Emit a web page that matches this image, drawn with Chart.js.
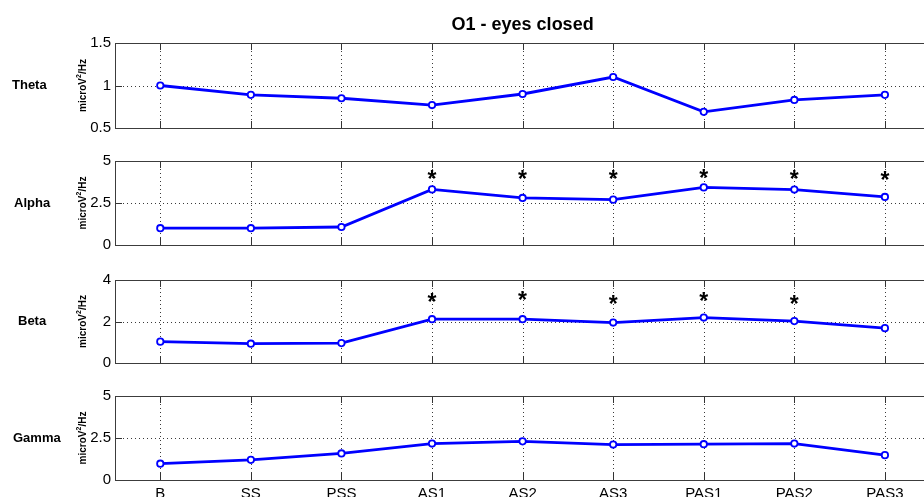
<!DOCTYPE html>
<html>
<head>
<meta charset="utf-8">
<script src="https://cdn.jsdelivr.net/npm/chart.js@4/dist/chart.umd.min.js"></script>
<style>
  html, body { margin: 0; padding: 0; background: #fff; overflow: hidden; }
  #wrap { position: relative; width: 936px; height: 497px; }
  #wrap canvas { position: absolute; left: 0; top: 0; }
</style>
</head>
<body>
<div id="wrap">
  <canvas id="c0" width="936" height="497"></canvas>
  <canvas id="c1" width="936" height="497"></canvas>
  <canvas id="c2" width="936" height="497"></canvas>
  <canvas id="c3" width="936" height="497"></canvas>
</div>
<script>
// Recording conditions along the x axis
const categories = ['B', 'SS', 'PSS', 'AS1', 'AS2', 'AS3', 'PAS1', 'PAS2', 'PAS3'];

// Band power (microV^2/Hz) per condition
const thetaValues = [1.00, 0.89, 0.85, 0.77, 0.90, 1.10, 0.69, 0.83, 0.89];
const alphaValues = [1.00, 1.00, 1.07, 3.31, 2.80, 2.70, 3.43, 3.30, 2.86];
const betaValues  = [1.03, 0.93, 0.96, 2.11, 2.11, 1.95, 2.19, 2.02, 1.68];
const gammaValues = [0.97, 1.20, 1.58, 2.17, 2.30, 2.11, 2.13, 2.17, 1.48];

// Significance markers (y position of each "*", null = none)
const alphaStars = [null, null, null, 4.24, 4.24, 4.20, 4.28, 4.24, 4.14];
const betaStars  = [null, null, null, 3.17, 3.26, 3.10, 3.23, 3.09, null];

// Y tick values for each band
const thetaTicks = [0.5, 1, 1.5];
const alphaTicks = [0, 2.5, 5];
const betaTicks  = [0, 2, 4];
const gammaTicks = [0, 2.5, 5];

const chartTitle = 'O1 - eyes closed';
const unitMain = 'microV';
const unitSup = '2';
const unitTail = '/Hz';

const FONT = '"Liberation Sans", Arial, Helvetica, sans-serif';

// Layout of the four stacked panels
const panels = [
  { name: 'Theta', values: thetaValues, ticks: thetaTicks, stars: null,       top: 43,  bottom: 128, labelX: 12 },
  { name: 'Alpha', values: alphaValues, ticks: alphaTicks, stars: alphaStars, top: 161, bottom: 245, labelX: 14 },
  { name: 'Beta',  values: betaValues,  ticks: betaTicks,  stars: betaStars,  top: 280, bottom: 363, labelX: 18 },
  { name: 'Gamma', values: gammaValues, ticks: gammaTicks, stars: null,       top: 396, bottom: 480, labelX: 13 }
];

const H = 497;
const AXIS_LEFT = 115;

// Draws box, dotted grid, inward tick marks, band labels, stars and title
const panelPlugin = {
  id: 'panel',
  beforeDatasetsDraw(chart, args, opts) {
    const ctx = chart.ctx;
    const a = chart.chartArea;
    const xs = chart.scales.x;
    const ys = chart.scales.y;
    ctx.save();
    // dotted grid
    ctx.strokeStyle = '#3a3a3a';
    ctx.lineWidth = 1;
    ctx.setLineDash([1, 3]);
    ctx.beginPath();
    categories.forEach((c, i) => {
      const x = Math.round(xs.getPixelForValue(i)) + 0.5;
      ctx.moveTo(x, a.top);
      ctx.lineTo(x, a.bottom);
    });
    ys.ticks.forEach(t => {
      const y = Math.round(ys.getPixelForValue(t.value)) + 0.5;
      if (y > a.top + 1 && y < a.bottom - 1) {
        ctx.moveTo(a.left, y);
        ctx.lineTo(a.right, y);
      }
    });
    ctx.stroke();
    ctx.setLineDash([]);
    // inward tick marks
    ctx.strokeStyle = '#333';
    ctx.beginPath();
    const tl = 7;
    categories.forEach((c, i) => {
      const x = Math.round(xs.getPixelForValue(i)) + 0.5;
      ctx.moveTo(x, a.top); ctx.lineTo(x, a.top + tl);
      ctx.moveTo(x, a.bottom); ctx.lineTo(x, a.bottom - tl);
    });
    ys.ticks.forEach(t => {
      const y = Math.round(ys.getPixelForValue(t.value)) + 0.5;
      ctx.moveTo(a.left, y); ctx.lineTo(a.left + tl, y);
      ctx.moveTo(a.right, y); ctx.lineTo(a.right - tl, y);
    });
    ctx.stroke();
    // axes box
    ctx.strokeStyle = '#3c3c3c';
    ctx.strokeRect(Math.round(a.left) + 0.5, Math.round(a.top) + 0.5,
                   Math.round(a.right - a.left), Math.round(a.bottom - a.top));
    ctx.restore();
  },
  afterDraw(chart, args, opts) {
    const ctx = chart.ctx;
    const a = chart.chartArea;
    const xs = chart.scales.x;
    const ys = chart.scales.y;
    const mid = (a.top + a.bottom) / 2;
    ctx.save();
    ctx.fillStyle = '#000';
    // band name
    ctx.font = 'bold 13px ' + FONT;
    ctx.textAlign = 'left';
    ctx.textBaseline = 'middle';
    ctx.fillText(opts.name, opts.labelX, mid);
    // rotated unit label
    ctx.translate(82, mid);
    ctx.rotate(-Math.PI / 2);
    ctx.font = 'bold 10px ' + FONT;
    const w1 = ctx.measureText(unitMain).width;
    const w3 = ctx.measureText(unitTail).width;
    ctx.font = 'bold 7px ' + FONT;
    const w2 = ctx.measureText(unitSup).width;
    let x0 = -(w1 + w2 + w3) / 2;
    ctx.textBaseline = 'alphabetic';
    ctx.font = 'bold 10px ' + FONT;
    ctx.fillText(unitMain, x0, 4);
    ctx.font = 'bold 7px ' + FONT;
    ctx.fillText(unitSup, x0 + w1, -1);
    ctx.font = 'bold 10px ' + FONT;
    ctx.fillText(unitTail, x0 + w1 + w2, 4);
    ctx.restore();
    // significance stars
    if (opts.stars) {
      ctx.save();
      ctx.fillStyle = '#000';
      ctx.font = 'bold 23px ' + FONT;
      ctx.textAlign = 'center';
      ctx.textBaseline = 'alphabetic';
      opts.stars.forEach((v, i) => {
        if (v === null) return;
        const x = xs.getPixelForValue(i);
        const y = ys.getPixelForValue(v);
        ctx.fillText('*', x, y + 13);
      });
      ctx.restore();
    }
    // figure title
    if (opts.title) {
      ctx.save();
      ctx.fillStyle = '#000';
      ctx.font = 'bold 18px ' + FONT;
      ctx.textAlign = 'center';
      ctx.textBaseline = 'alphabetic';
      ctx.fillText(opts.title, (a.left + a.right) / 2, 30);
      ctx.restore();
    }
  }
};

panels.forEach((p, idx) => {
  const isBottom = idx === panels.length - 1;
  const xHeight = isBottom ? H - p.bottom : 0;
  new Chart(document.getElementById('c' + idx), {
    type: 'line',
    data: {
      labels: categories,
      datasets: [{
        data: p.values,
        borderColor: '#0000ff',
        borderWidth: 2.8,
        pointRadius: 3.2,
        pointBorderWidth: 1.8,
        pointBorderColor: '#0000ff',
        pointBackgroundColor: '#ffffff',
        tension: 0,
        fill: false
      }]
    },
    options: {
      responsive: false,
      animation: false,
      events: [],
      layout: { padding: { top: p.top, bottom: H - p.bottom - xHeight, left: 0, right: 0 } },
      plugins: {
        legend: { display: false },
        tooltip: { enabled: false },
        title: { display: false },
        panel: { name: p.name, labelX: p.labelX, stars: p.stars, title: idx === 0 ? chartTitle : null }
      },
      scales: {
        x: {
          type: 'category',
          offset: true,
          display: true,
          grid: { display: false, drawTicks: false },
          border: { display: false },
          ticks: {
            display: isBottom,
            color: '#000',
            font: { family: FONT, size: 15 },
            padding: 5,
            maxRotation: 0,
            autoSkip: false
          },
          afterFit(scale) { scale.height = xHeight; }
        },
        y: {
          min: p.ticks[0],
          max: p.ticks[p.ticks.length - 1],
          grid: { display: false, drawTicks: false },
          border: { display: false },
          ticks: {
            stepSize: p.ticks[1] - p.ticks[0],
            color: '#000',
            font: { family: FONT, size: 15 },
            padding: 4,
            callback: (v) => String(v)
          },
          afterFit(scale) { scale.width = AXIS_LEFT; },
          afterBuildTicks(scale) { scale.ticks = p.ticks.map(v => ({ value: v })); }
        }
      }
    },
    plugins: [panelPlugin]
  });
});
</script>
</body>
</html>
